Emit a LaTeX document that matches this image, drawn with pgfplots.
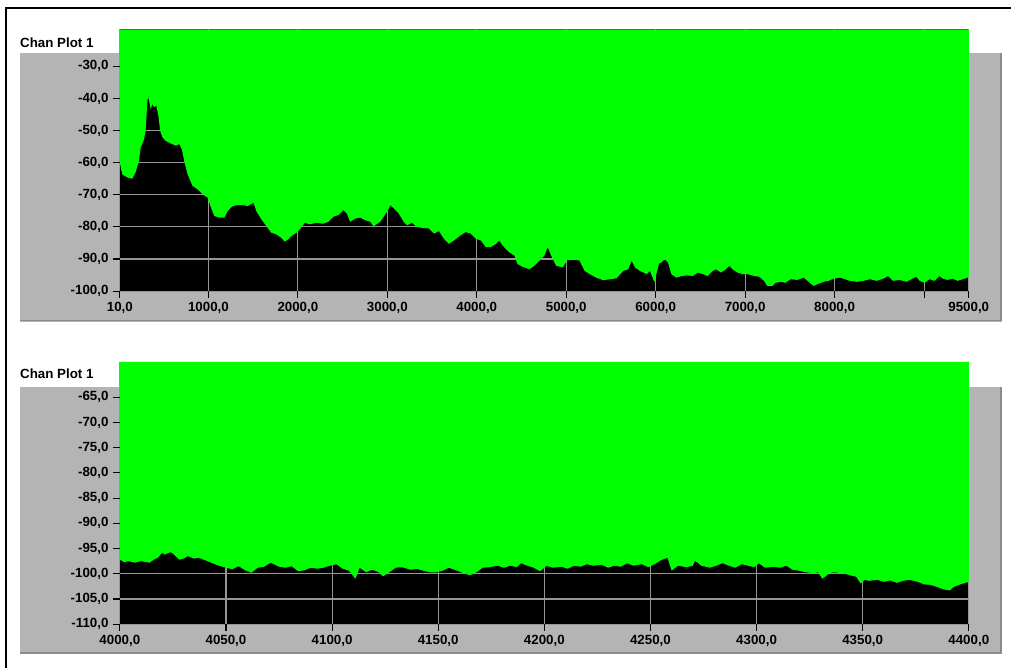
\documentclass[border=0pt]{standalone}
\usepackage{fontspec}
\setmainfont{Liberation Sans}
\usepackage{pgfplots}
\pgfplotsset{compat=1.18}
\definecolor{lvgreen}{RGB}{0,255,0}
\definecolor{lvpanel}{RGB}{180,180,180}
\definecolor{lvedge}{RGB}{140,140,140}
\definecolor{lvgrid}{RGB}{150,150,150}

\pgfplotstableread{
x y
10 -60
36 -63.6
92 -64.6
149 -65
186 -63
224 -59.4
242 -55.3
280 -52.7
298 -50
317 -41
328 -39.1
336 -40.7
355 -43.3
373 -41.7
392 -42.7
418 -42.2
441 -45.4
460 -50
486 -52.1
523 -53.2
579 -54
636 -54.7
673 -54.2
703 -55.8
729 -59.4
767 -63.6
822 -67.2
879 -68.3
935 -69.8
991 -70.9
1029 -74
1066 -76.6
1122 -77.1
1179 -77.1
1216 -75
1272 -73.5
1328 -73.2
1384 -73.2
1441 -73.5
1504 -72.4
1534 -75
1591 -77.6
1647 -79.7
1703 -81.8
1759 -82.3
1815 -83.4
1853 -84.6
1890 -83.9
1928 -82.8
1984 -81.8
2021 -80.8
2077 -78.7
2134 -79.2
2208 -78.7
2283 -79
2341 -78.4
2397 -76.8
2453 -76.3
2509 -74.7
2547 -75.8
2584 -78.4
2640 -77.4
2697 -77.1
2753 -77.9
2809 -78.4
2846 -79.8
2921 -78.4
2959 -76.8
2996 -75.3
3034 -73.2
3071 -74.2
3127 -75.8
3184 -78.4
3221 -79.5
3277 -78.7
3322 -80
3390 -80.3
3464 -80.5
3521 -82.1
3577 -81.3
3633 -83.7
3689 -85.3
3745 -84.2
3820 -82.6
3876 -81.6
3933 -82.1
3989 -83.7
4045 -84.2
4101 -86.3
4157 -86.3
4213 -85.3
4251 -84.2
4288 -85.8
4363 -87.9
4419 -88.9
4457 -91.6
4513 -92.4
4588 -93.2
4644 -92.1
4700 -90.5
4756 -88.9
4794 -86.3
4831 -88.9
4888 -92.1
4962 -92.6
5018 -90
5074 -90
5149 -90.5
5206 -93.7
5262 -94.7
5337 -95.8
5412 -96.6
5487 -96.3
5562 -96
5637 -93.7
5693 -93.2
5731 -90.5
5768 -92.6
5824 -93.7
5899 -94.7
5936 -93.7
5985 -97.2
6037 -91.4
6064 -91.1
6101 -90
6138 -91.1
6175 -94.7
6230 -95.8
6286 -95.3
6360 -95.1
6415 -95.3
6471 -94.2
6526 -94.7
6582 -95.3
6637 -93.7
6674 -93.2
6730 -94.2
6785 -93.2
6822 -92.1
6859 -93.2
6915 -94.2
6970 -94.7
7026 -94.7
7100 -95.3
7155 -95.5
7211 -96.8
7248 -98.4
7303 -98.4
7340 -97.4
7396 -97.1
7451 -97.4
7507 -96.3
7581 -96.5
7655 -95.8
7710 -97.1
7766 -98.4
7803 -97.9
7877 -97.1
7932 -96.8
7988 -96.1
8062 -95.8
8117 -96.3
8173 -96.8
8247 -97.1
8321 -96.8
8395 -96.3
8469 -96.8
8543 -96.1
8598 -95.3
8654 -96.8
8728 -96.5
8802 -97.1
8857 -96.3
8913 -95.5
8950 -96.8
9005 -97.4
9061 -96.3
9116 -96.8
9172 -95.3
9209 -96.1
9264 -96.5
9320 -96.1
9375 -96.8
9431 -96.3
9486 -95.8
9500 -95.8
}\topdata

\pgfplotstableread{
x y
4000 -97.2
4002 -97.7
4004 -97.5
4007 -97.8
4010 -97.5
4014 -97.8
4016 -97.2
4018 -96.8
4020 -95.8
4021 -96.2
4024 -95.7
4025 -96.0
4028 -97.2
4030 -97.0
4032 -96.5
4035 -97.0
4037 -96.8
4040 -97.3
4043 -97.8
4046 -98.3
4050 -98.8
4053 -99.1
4056 -98.5
4059 -99.3
4062 -99.8
4065 -98.8
4068 -98.6
4071 -97.8
4075 -98.6
4078 -98.8
4081 -98.5
4084 -99.5
4087 -99.3
4090 -98.8
4093 -99.0
4096 -98.8
4099 -98.4
4102 -98.1
4105 -99.0
4108 -99.4
4111 -101.0
4113 -98.8
4116 -99.7
4119 -99.2
4122 -99.7
4124 -100.5
4127 -99.7
4130 -98.8
4133 -98.7
4137 -99.2
4140 -99.0
4143 -99.4
4146 -99.7
4149 -99.7
4152 -99.4
4155 -98.8
4159 -99.4
4162 -99.9
4165 -100.3
4168 -99.7
4171 -98.8
4174 -98.7
4178 -98.4
4181 -98.8
4184 -98.4
4187 -98.7
4189 -97.9
4192 -98.4
4195 -98.8
4198 -99.5
4201 -98.4
4204 -98.8
4208 -98.6
4211 -99.0
4214 -98.4
4217 -98.6
4220 -98.1
4223 -98.4
4227 -98.2
4230 -98.8
4233 -98.4
4236 -98.6
4239 -97.9
4242 -98.4
4246 -98.1
4249 -98.7
4252 -98.1
4255 -97.3
4258 -96.8
4260 -99.4
4263 -98.4
4267 -98.7
4270 -98.4
4271 -97.4
4274 -98.4
4278 -98.8
4281 -98.4
4284 -97.9
4287 -98.4
4290 -98.8
4293 -98.1
4296 -98.4
4299 -98.7
4301 -97.9
4304 -98.8
4308 -98.6
4311 -98.8
4314 -98.4
4317 -99.2
4320 -99.4
4323 -99.7
4327 -99.9
4329 -99.7
4331 -101.0
4334 -100.0
4336 -99.7
4341 -99.9
4344 -100.3
4347 -100.6
4349 -101.9
4351 -101.2
4353 -101.4
4357 -101.2
4360 -101.6
4363 -101.3
4366 -101.8
4369 -101.4
4372 -101.2
4376 -101.6
4379 -102.1
4382 -102.2
4385 -102.6
4388 -103.1
4391 -103.3
4393 -102.6
4396 -102.1
4400 -101.6
}\bottomdata

\pgfplotsset{lv/.style={
  scale only axis,
  width=637.5pt,
  axis background/.style={fill=black},
  axis line style={draw=none},
  tick align=outside,
  tick pos=left,
  major tick length=5pt,
  tick style={black, line width=0.8pt},
  grid=major,
  major grid style={lvgrid, line width=0.8pt},
  ticklabel style={font=\bfseries\fontsize{10}{12}\selectfont, text=black},
  clip=true,
}}

\begin{document}
\begin{tikzpicture}[x=1pt,y=1pt]
\fill[white] (0,0) rectangle (759,501.75);
% grey panels
\fill[lvpanel] (15,260.25) rectangle (752.25,462);
\draw[lvedge, line width=1.2pt] (15,261) -- (751.6,261) -- (751.6,462);
\fill[lvpanel] (15,10.5) rectangle (752.25,211.5);
\draw[lvedge, line width=1.2pt] (15,11.25) -- (751.6,11.25) -- (751.6,211.5);
% frame
\draw[black, line width=1.9pt] (4.5,0) -- (4.5,495.75) -- (759,495.75);
% titles
\node[anchor=west, inner sep=0pt, font=\bfseries\fontsize{10}{12}\selectfont] at (15,470) {Chan Plot 1};
\node[anchor=west, inner sep=0pt, font=\bfseries\fontsize{10}{12}\selectfont] at (15,221) {Chan Plot 1};

\begin{axis}[lv,
  at={(90pt,283.125pt)}, anchor=south west,
  height=196.5pt,
  xmin=10, xmax=9500, ymin=-100, ymax=-18.5,
  xtick={10,1000,2000,3000,4000,5000,6000,7000,8000,9000,9500},
  xticklabels={{10,0},{1000,0},{2000,0},{3000,0},{4000,0},{5000,0},{6000,0},{7000,0},{8000,0},{},{9500,0}},
  ytick={-100,-90,-80,-70,-60,-50,-40,-30},
  yticklabels={{-100,0},{-90,0},{-80,0},{-70,0},{-60,0},{-50,0},{-40,0},{-30,0}},
]
\addplot[fill=lvgreen, draw=none] table[x=x,y=y] {\topdata} \closedcycle;
\end{axis}

\begin{axis}[lv,
  at={(90pt,33pt)}, anchor=south west,
  height=197pt,
  xmin=4000, xmax=4400, ymin=-110, ymax=-58,
  xtick={4000,4050,4100,4150,4200,4250,4300,4350,4400},
  xticklabels={{4000,0},{4050,0},{4100,0},{4150,0},{4200,0},{4250,0},{4300,0},{4350,0},{4400,0}},
  ytick={-110,-105,-100,-95,-90,-85,-80,-75,-70,-65},
  yticklabels={{-110,0},{-105,0},{-100,0},{-95,0},{-90,0},{-85,0},{-80,0},{-75,0},{-70,0},{-65,0}},
]
\addplot[fill=lvgreen, draw=none] table[x=x,y=y] {\bottomdata} \closedcycle;
\end{axis}
\end{tikzpicture}
\end{document}
